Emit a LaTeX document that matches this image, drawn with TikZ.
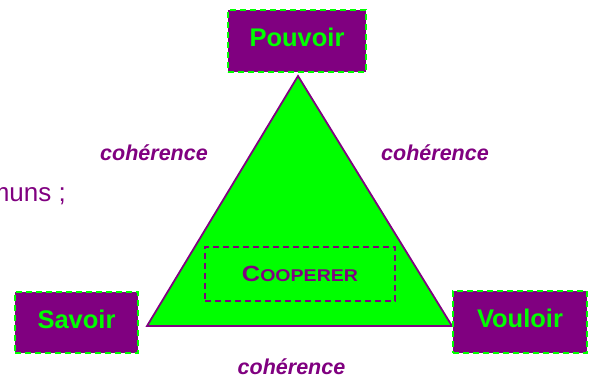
\documentclass[tikz,border=0pt]{standalone}
\usepackage{fontspec}
\setmainfont{Liberation Sans}
\definecolor{vgreen}{HTML}{00FF00}
\definecolor{vpurple}{HTML}{800080}
\tikzset{
  pbox/.style={draw=vgreen, fill=vpurple, line width=1.6pt, dash pattern=on 6pt off 4pt,
    text=vgreen, font=\fontsize{25.5}{28}\selectfont\bfseries, inner sep=0pt,
    text height=12pt, text depth=0.7pt},
  coh/.style={text=vpurple, font=\fontsize{21.5}{24}\selectfont\bfseries\itshape, inner sep=0pt, anchor=base},
}
\begin{document}
\begin{tikzpicture}[x=1pt,y=-1pt]
\useasboundingbox (0,0) rectangle (594,378);
\clip (0,0) rectangle (594,378);
% triangle
\coordinate (A) at (298,76);
\coordinate (L) at (147,326);
\coordinate (R) at (452,326);
\draw[fill=vgreen, draw=vpurple, line width=1.8pt, line join=miter] (A) -- (L) -- (R) -- cycle;
% cooperer box
\node[draw=vpurple, line width=1.3pt, dash pattern=on 6pt off 4pt, minimum width=190pt, minimum height=54pt, inner sep=0pt,
  text=vpurple, font=\bfseries\addfontfeatures{FakeStretch=1.15}] (coop) at (300,274)
  {\fontsize{22}{24}\selectfont C\fontsize{17}{20}\selectfont OOPERER};
% boxes
\node[pbox, minimum width=138pt, minimum height=62pt] (pouvoir) at (297,41) {Pouvoir};
\node[pbox, minimum width=123pt, minimum height=61pt] (savoir) at (76.5,322.5) {Savoir};
\node[pbox, minimum width=134pt, minimum height=62pt] (vouloir) at (520,322) {Vouloir};
% labels
\node[coh] (c1) at (154,160) {cohérence};
\node[coh] (c2) at (435,160) {cohérence};
\node[coh] (c3) at (291.5,374) {cohérence};
\node[text=vpurple, font=\fontsize{26}{30}\selectfont, anchor=base east, inner sep=0pt] (communs) at (66,201) {communs ;};
\end{tikzpicture}
\end{document}
